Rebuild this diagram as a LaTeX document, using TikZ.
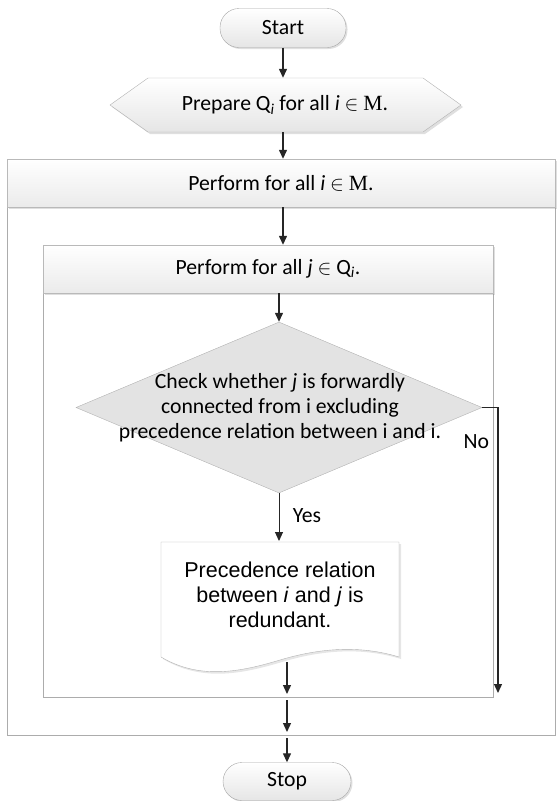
\documentclass[tikz,border=0pt]{standalone}
\usepackage{fontspec}
\setmainfont{Carlito}
\newfontfamily\arialfont{Liberation Sans}
\newfontfamily\tnrfont{Liberation Serif}
\usetikzlibrary{shapes.geometric,arrows.meta,shadows}

\tikzset{
  flow/.style={draw=black!85, line width=1.3pt, -{Triangle[length=9pt,width=8pt]}},
  softshadow/.style={drop shadow={opacity=0.25, shadow xshift=1.5pt, shadow yshift=-1.5pt, fill=gray}},
  term/.style={draw=gray!70, rounded corners=19pt, top color=white, bottom color=gray!20,
    minimum width=126pt, minimum height=39pt, softshadow},
  hdr/.style={draw=gray!55, top color=white, bottom color=gray!16, softshadow},
  frame/.style={draw=gray!65, line width=0.9pt},
  lbl/.style={font=\fontsize{21.7}{25}\selectfont},
}

\begin{document}
\begin{tikzpicture}[x=1pt,y=-1pt]
\useasboundingbox (0,0) rectangle (558,801);

%the two loop frames
\draw[frame] (7,159) rectangle (555,735);
\draw[frame] (43,245) rectangle (493,697);

%start and preparation
\node[term, lbl] (start) at (283,28) {Start};

\fill[gray, opacity=0.25] (112,107) -- (150,80) -- (425,80) -- (463,107) -- (425,134) -- (150,134) -- cycle;
\shade[top color=white, bottom color=gray!20, draw=gray!60]
  (110,105) -- (148,78) -- (423,78) -- (461,105) -- (423,132) -- (148,132) -- cycle;
\node[lbl, minimum width=351pt, minimum height=54pt] (prep) at (285,105)
  {Prepare Q\textsubscript{\textit{i}} for all \textit{i} $\in$ {\tnrfont M}.};

%headers of the loops
\node[hdr, lbl, minimum width=548pt, minimum height=48pt] (ohead) at (281,183)
  {Perform for all \textit{i} $\in$ {\tnrfont M}.};
\node[hdr, lbl, minimum width=450pt, minimum height=48pt] (ihead) at (268,269)
  {Perform for all \textit{j} $\in$ Q\textsubscript{\textit{i}}.};

%decision
\node[diamond, draw=gray!60, fill=gray!22, inner sep=0pt,
  minimum width=406pt, minimum height=171pt] (check) at (279,407.5) {};
\node[lbl, align=center] (checktxt) at (280,408)
  {Check whether \textit{j} is forwardly\\connected from i excluding\\precedence relation between i and i.};

%document
\fill[gray, opacity=0.2] (163,544) -- (401,544) -- (401,659)
  .. controls (362,647) and (322,650) .. (282,662)
  .. controls (242,674) and (202,682) .. (163,659) -- cycle;
\draw[gray!60, fill=white] (161,542) -- (399,542) -- (399,657)
  .. controls (360,645) and (320,648) .. (280,660)
  .. controls (240,672) and (200,680) .. (161,657) -- cycle;
\node[align=center, font=\arialfont\fontsize{21.5}{25}\selectfont] (doc) at (280,595)
  {Precedence relation\\between \textit{i} and \textit{j} is\\redundant.};

\node[term, lbl, minimum width=128pt, minimum height=38pt] (stop) at (287,781.5) {Stop};

%named ends
\coordinate (doctop) at (280,541);
\coordinate (docend) at (287,662);
\coordinate (inbot) at (287,694);
\coordinate (obelow) at (287,700);
\coordinate (obot) at (287,732);
\coordinate (stoptop) at (287,738);
\coordinate (noend) at (498,693);

%connectors
\draw[flow] (start) -- (prep.north -| start);
\draw[flow] (prep.south -| start) -- (ohead.north -| start);
\draw[flow] (ohead.south -| start) -- (ihead.north -| start);
\draw[flow] (ihead.south -| check) -- (check.north);
\draw[flow, line width=1pt] (check.south) -- (check.south |- doctop)
  node[lbl, pos=0.46, right=10pt] (yes) {Yes};
\draw[flow] (check.east) -| (noend)
  node[lbl, pos=0.56, left=5pt] (no) {No};
\draw[flow] (docend) -- (inbot);
\draw[flow] (obelow) -- (obot);
\draw[flow] (stoptop) -- (stop.north);

\end{tikzpicture}
\end{document}
